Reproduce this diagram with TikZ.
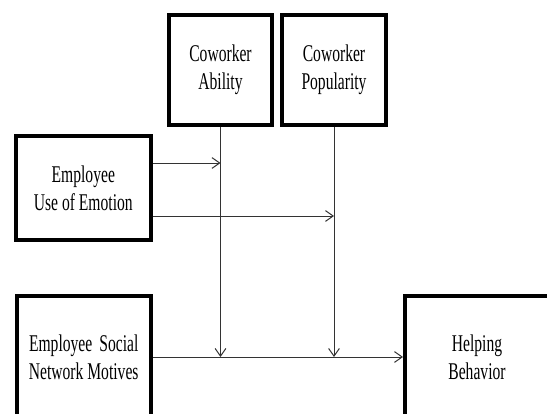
\documentclass[tikz,border=0pt]{standalone}
\usepackage{fontspec}
\newfontfamily\narrowserif[FakeStretch=0.65]{Liberation Serif}
\usetikzlibrary{arrows.meta}
\tikzset{
	box/.style={
		draw,
		rectangle,
		line width=3pt,
		inner sep=0pt,
		align=center,
		font=\narrowserif\fontsize{18}{21}\selectfont,
	},
	link/.style={
		draw=black!80,
		line width=0.75pt,
		-{Straight Barb[angle=70:7pt 0]}
	},
}

\begin{document}
\begin{tikzpicture}[x=0.75pt,y=-0.75pt]
	\useasboundingbox (0,0) rectangle (547,414);
	\clip (0,0) rectangle (547,414);

	\node[box, minimum width=77.25pt, minimum height=82.5pt] (ability) at (220.5,70) {Coworker\\Ability};
	\node[box, minimum width=77.5pt, minimum height=82.5pt] (popularity) at (334,70) {Coworker\\Popularity};
	\node[box, minimum width=101pt, minimum height=78pt] (emotion) at (83.3,188) {Employee\\Use of Emotion};
	\node[box, minimum width=100.5pt, minimum height=91.5pt] (motives) at (83.7,357) {\makebox[82pt][s]{Employee Social}\\Network Motives};
	\node[box, minimum width=108pt, minimum height=91.5pt] (helping) at (477,357) {Helping\\Behavior};

	\coordinate (abilitymid) at (ability.south |- 0,163);
	\coordinate (popularitymid) at (popularity.south |- 0,216);
	\coordinate (abilityend) at (ability.south |- motives.east);
	\coordinate (popularityend) at (popularity.south |- motives.east);

	\draw[link] (motives) -- (helping);
	\draw[link] (ability) -- (abilityend);
	\draw[link] (popularity) -- (popularityend);
	\draw[link] (emotion.east |- abilitymid) -- (abilitymid);
	\draw[link] (emotion.east |- popularitymid) -- (popularitymid);

\end{tikzpicture}
\end{document}
